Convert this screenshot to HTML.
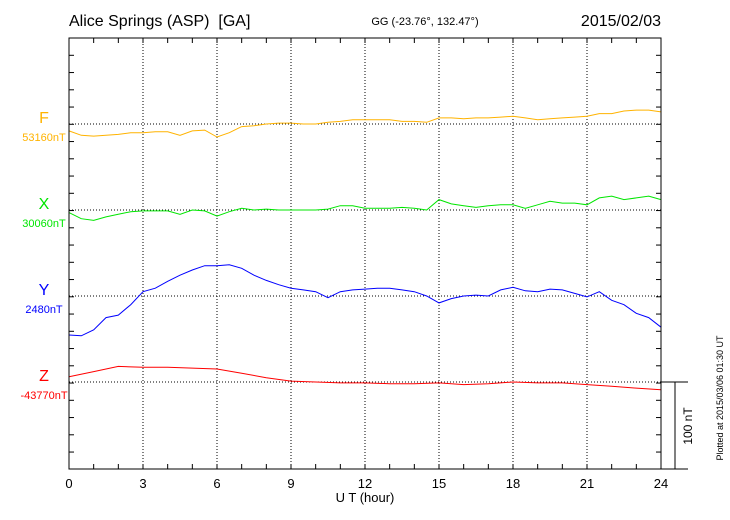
<!DOCTYPE html>
<html><head><meta charset="utf-8">
<style>
html,body{margin:0;padding:0;background:#fff;}
svg{display:block;font-family:"Liberation Sans",sans-serif;}
</style></head>
<body>
<svg id="chart" width="730" height="520" viewBox="0 0 730 520" xmlns="http://www.w3.org/2000/svg">
<rect width="730" height="520" fill="#fff"/>
<text x="69" y="26" font-size="16">Alice Springs (ASP)&#160;&#160;[GA]</text>
<text x="425" y="25" font-size="11" text-anchor="middle">GG (-23.76°, 132.47°)</text>
<text x="661" y="26" font-size="16" text-anchor="end">2015/02/03</text>
<g id="grid"></g>
<g id="series"></g>
<g id="axes"></g>
<text x="365" y="502" font-size="13" text-anchor="middle">U T (hour)</text>
<text transform="translate(692,426) rotate(-90)" font-size="12" text-anchor="middle">100 nT</text>
<text transform="translate(723,398) rotate(-90)" font-size="9" text-anchor="middle">Plotted at 2015/03/06 01:30 UT</text>
</svg>
<script>
const xTicks = [0,3,6,9,12,15,18,21,24];
const componentNames = ["F","X","Y","Z"];
const baseLabels = ["53160nT","30060nT","2480nT","-43770nT"];
const fHours = [0,0.5,1,1.5,2,2.5,3,3.5,4,4.5,5,5.5,6,6.5,7,7.5,8,8.5,9,9.5,10,10.5,11,11.5,12,12.5,13,13.5,14,14.5,15,15.5,16,16.5,17,17.5,18,18.5,19,19.5,20,20.5,21,21.5,22,22.5,23,23.5,24];
const fValues = [-8,-13,-14,-13,-12,-10,-10,-9,-9,-13,-8,-7,-15,-10,-3,-2,0,1,1,0,0,2,3,5,5,5,5,3,3,2,7,7,6,7,7,8,9,7,5,6,7,8,9,12,12,15,16,16,14];
const xValues = [-3,-10,-12,-8,-5,-2,-1,-1,-1,-5,0,-1,-7,-2,2,0,1,0,0,0,0,1,5,5,2,2,2,3,2,0,12,7,5,3,5,6,6,2,6,10,8,8,6,14,16,12,14,16,12];
const yValues = [-45,-46,-39,-25,-22,-10,5,9,17,24,30,35,35,36,32,24,18,13,9,7,5,-2,5,7,8,9,9,7,5,0,-8,-3,0,1,0,7,10,6,5,8,7,3,-1,5,-5,-10,-20,-25,-36];
const zHours = [0,1,2,3,4,5,6,7,8,9,10,11,12,13,14,15,16,17,18,19,20,21,22,23,24];
const zValues = [6,12,18,17,17,16,15,10,5,1,0,-1,-1,-2,-2,-1,-3,-2,0,-1,-1,-3,-5,-7,-9];

const L=69,R=661,T=38,B=469,PXNT=0.866;
const baselines=[124,210,296,382];
const colors=["#ffb300","#00e600","#0000ff","#ff0000"];
const NS="http://www.w3.org/2000/svg";
const xs=h=>L+(R-L)*h/24;
const ys=(i,v)=>baselines[i]-v*PXNT;
function mk(tag,attrs,parent){const e=document.createElementNS(NS,tag);for(const k in attrs)e.setAttribute(k,attrs[k]);parent.appendChild(e);return e;}
const grid=document.getElementById('grid'),ser=document.getElementById('series'),ax=document.getElementById('axes');
xTicks.forEach(h=>{if(h>0&&h<24){const l=mk('line',{x1:xs(h),x2:xs(h),y1:T,y2:B,stroke:'#000','stroke-width':1,'stroke-dasharray':'1,2'},grid);

}
const t=mk('text',{x:xs(h),y:488,'font-size':13,'text-anchor':'middle'},ax);t.textContent=h;

});
baselines.forEach((b,i)=>{const l=mk('line',{x1:L,x2:R,y1:b,y2:b,stroke:'#000','stroke-width':1,'stroke-dasharray':'1,2'},grid);


const n=mk('text',{x:44,y:b-1,'font-size':16,'text-anchor':'middle',fill:colors[i]},ax);n.textContent=componentNames[i];


const v=mk('text',{x:44,y:b+17,'font-size':11,'text-anchor':'middle',fill:colors[i]},ax);v.textContent=baseLabels[i];

});
const data=[[fHours,fValues],[fHours,xValues],[fHours,yValues],[zHours,zValues]];
data.forEach((d,i)=>{const pts=d[0].map((h,j)=>xs(h).toFixed(1)+','+ys(i,d[1][j]).toFixed(1)).join(' ');
const p=mk('polyline',{points:pts,fill:'none',stroke:colors[i],'stroke-width':1},ser);

});
const fr=mk('rect',{x:L,y:T,width:R-L,height:B-T,fill:'none',stroke:'#000','stroke-width':1},ax);


for(let h=1;h<24;h++){mk('line',{x1:xs(h),x2:xs(h),y1:T,y2:T+5,stroke:'#000'},ax);mk('line',{x1:xs(h),x2:xs(h),y1:B,y2:B-5,stroke:'#000'},ax);}
for(let y=T+17.3;y<B-2;y+=17.25){mk('line',{x1:L,x2:L+5,y1:y,y2:y,stroke:'#000'},ax);mk('line',{x1:R,x2:R-5,y1:y,y2:y,stroke:'#000'},ax);}
const sb=mk('g',{},ax);


mk('line',{x1:R,x2:688,y1:382,y2:382,stroke:'#000'},sb);
mk('line',{x1:R,x2:688,y1:B,y2:B,stroke:'#000'},sb);
mk('line',{x1:675,x2:675,y1:382,y2:B,stroke:'#000'},sb);
</script>
</body></html>
